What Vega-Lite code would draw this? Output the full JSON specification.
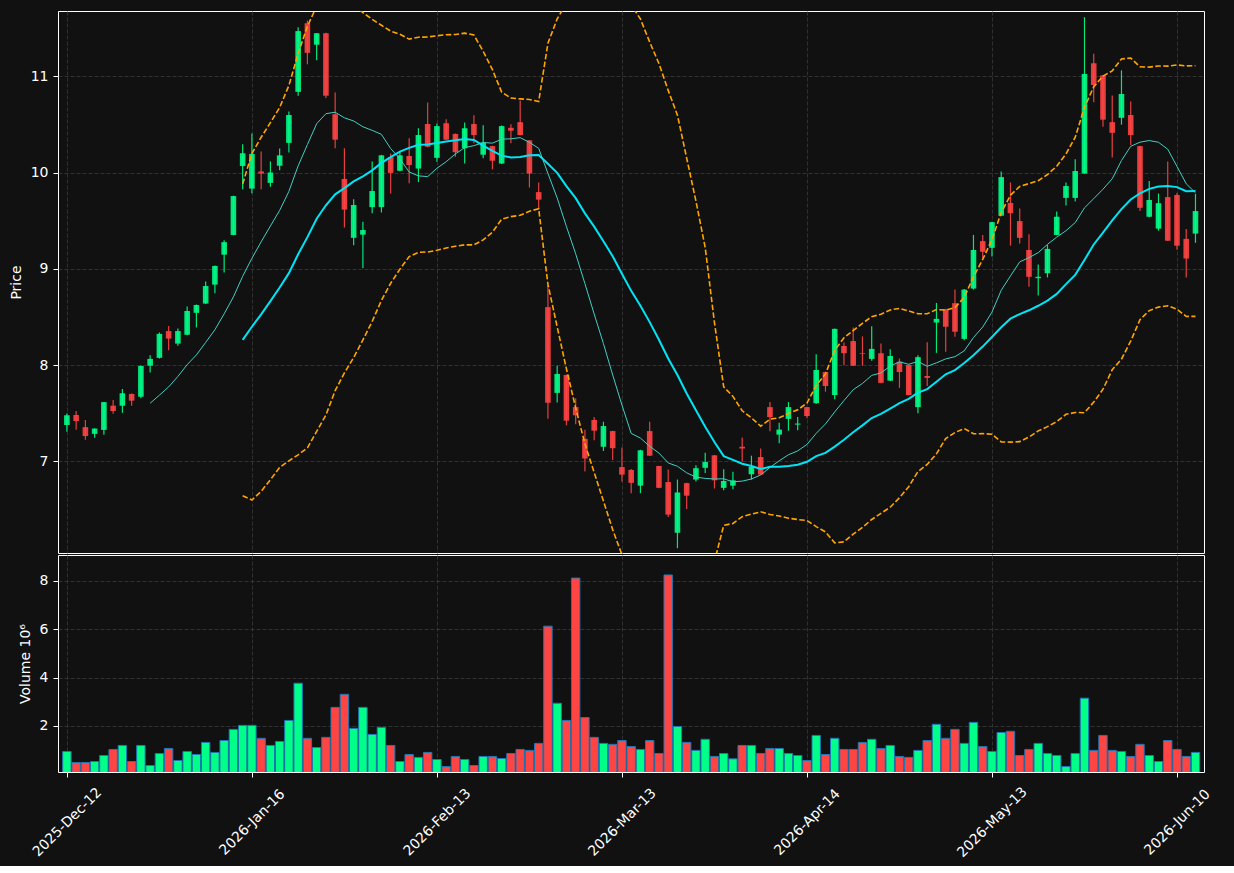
{
"$schema":"https://vega.github.io/schema/vega-lite/v6.json",
"background":"#111111",
"padding":{"left":8,"top":10,"right":26,"bottom":5},
"spacing":0,
"config":{
"font":"DejaVu Sans",
"view":{"stroke":"#ffffff","strokeWidth":1},
"axis":{"domain":false,"gridColor":"#3a3a3a","gridDash":[4,2],"gridWidth":0.8,"tickColor":"#ffffff","tickWidth":1,"tickSize":5,"labelPadding":5,"labelColor":"#ffffff","titleColor":"#ffffff","labelFont":"DejaVu Sans","titleFont":"DejaVu Sans","labelFontSize":14,"titleFontSize":14,"titleFontWeight":"normal","titlePadding":7}
},
"data":{"values":[
{"i":0,"o":7.378,"h":7.497,"l":7.308,"c":7.479,"v":0.946},
{"i":1,"o":7.482,"h":7.523,"l":7.330,"c":7.419,"v":0.49},
{"i":2,"o":7.356,"h":7.430,"l":7.226,"c":7.263,"v":0.49},
{"i":3,"o":7.286,"h":7.345,"l":7.245,"c":7.341,"v":0.53},
{"i":4,"o":7.327,"h":7.616,"l":7.278,"c":7.616,"v":0.78},
{"i":5,"o":7.579,"h":7.638,"l":7.494,"c":7.523,"v":1.03},
{"i":6,"o":7.579,"h":7.753,"l":7.505,"c":7.709,"v":1.195},
{"i":7,"o":7.701,"h":7.705,"l":7.579,"c":7.631,"v":0.53},
{"i":8,"o":7.672,"h":7.998,"l":7.657,"c":7.991,"v":1.195},
{"i":9,"o":7.994,"h":8.102,"l":7.924,"c":8.065,"v":0.365,"m10":7.604},
{"i":10,"o":8.076,"h":8.340,"l":8.070,"c":8.325,"v":0.863,"m10":7.688},
{"i":11,"o":8.354,"h":8.406,"l":8.154,"c":8.276,"v":1.07,"m10":7.774},
{"i":12,"o":8.224,"h":8.380,"l":8.202,"c":8.354,"v":0.573,"m10":7.883},
{"i":13,"o":8.317,"h":8.610,"l":8.310,"c":8.562,"v":0.946,"m10":8.005},
{"i":14,"o":8.544,"h":8.630,"l":8.391,"c":8.625,"v":0.82,"m10":8.106},
{"i":15,"o":8.640,"h":8.870,"l":8.635,"c":8.822,"v":1.32,"m10":8.236},
{"i":16,"o":8.837,"h":9.035,"l":8.748,"c":9.030,"v":0.905,"m10":8.368},
{"i":17,"o":9.148,"h":9.297,"l":8.963,"c":9.278,"v":1.40,"m10":8.533},
{"i":18,"o":9.353,"h":9.760,"l":9.350,"c":9.757,"v":1.86,"m10":8.709},
{"i":19,"o":10.069,"h":10.295,"l":9.827,"c":10.202,"v":2.025,"m10":8.923,"m20":8.263,"bu":9.883,"bl":6.643},
{"i":20,"o":9.835,"h":10.406,"l":9.787,"c":10.195,"v":2.025,"m10":9.110,"m20":8.399,"bu":10.199,"bl":6.599},
{"i":21,"o":10.013,"h":10.221,"l":9.827,"c":9.991,"v":1.49,"m10":9.282,"m20":8.528,"bu":10.368,"bl":6.688},
{"i":22,"o":9.894,"h":10.117,"l":9.853,"c":10.002,"v":1.195,"m10":9.446,"m20":8.665,"bu":10.520,"bl":6.810},
{"i":23,"o":10.072,"h":10.250,"l":10.024,"c":10.180,"v":1.36,"m10":9.608,"m20":8.807,"bu":10.677,"bl":6.937},
{"i":24,"o":10.310,"h":10.636,"l":10.210,"c":10.599,"v":2.23,"m10":9.806,"m20":8.956,"bu":10.906,"bl":7.006},
{"i":25,"o":10.840,"h":11.512,"l":10.800,"c":11.471,"v":3.77,"m10":10.071,"m20":9.153,"bu":11.238,"bl":7.068},
{"i":26,"o":11.553,"h":11.580,"l":11.126,"c":11.245,"v":1.49,"m10":10.292,"m20":9.330,"bu":11.520,"bl":7.140},
{"i":27,"o":11.330,"h":11.449,"l":11.167,"c":11.449,"v":1.11,"m10":10.509,"m20":9.521,"bu":11.731,"bl":7.311},
{"i":28,"o":11.449,"h":11.455,"l":10.777,"c":10.800,"v":1.53,"m10":10.613,"m20":9.661,"bu":11.841,"bl":7.481},
{"i":29,"o":10.607,"h":10.833,"l":10.254,"c":10.343,"v":2.77,"m10":10.628,"m20":9.775,"bu":11.815,"bl":7.735},
{"i":30,"o":9.935,"h":10.254,"l":9.430,"c":9.616,"v":3.31,"m10":10.570,"m20":9.840,"bu":11.760,"bl":7.920},
{"i":31,"o":9.323,"h":9.724,"l":9.245,"c":9.664,"v":1.90,"m10":10.537,"m20":9.909,"bu":11.739,"bl":8.079},
{"i":32,"o":9.356,"h":9.490,"l":9.007,"c":9.404,"v":2.77,"m10":10.477,"m20":9.962,"bu":11.662,"bl":8.262},
{"i":33,"o":9.642,"h":10.117,"l":9.579,"c":9.809,"v":1.65,"m10":10.440,"m20":10.024,"bu":11.594,"bl":8.454},
{"i":34,"o":9.642,"h":10.185,"l":9.586,"c":10.180,"v":1.94,"m10":10.398,"m20":10.102,"bu":11.532,"bl":8.672},
{"i":35,"o":10.161,"h":10.199,"l":9.783,"c":9.998,"v":1.195,"m10":10.251,"m20":10.161,"bu":11.471,"bl":8.851},
{"i":36,"o":10.020,"h":10.224,"l":10.015,"c":10.180,"v":0.53,"m10":10.144,"m20":10.218,"bu":11.438,"bl":8.998},
{"i":37,"o":10.173,"h":10.358,"l":9.891,"c":10.080,"v":0.82,"m10":10.007,"m20":10.258,"bu":11.388,"bl":9.128},
{"i":38,"o":10.043,"h":10.462,"l":9.902,"c":10.391,"v":0.70,"m10":9.967,"m20":10.290,"bu":11.408,"bl":9.172},
{"i":39,"o":10.506,"h":10.729,"l":10.265,"c":10.269,"v":0.905,"m10":9.959,"m20":10.293,"bu":11.410,"bl":9.176},
{"i":40,"o":10.154,"h":10.510,"l":10.113,"c":10.484,"v":0.614,"m10":10.046,"m20":10.308,"bu":11.423,"bl":9.193},
{"i":41,"o":10.514,"h":10.555,"l":10.340,"c":10.343,"v":0.32,"m10":10.114,"m20":10.325,"bu":11.433,"bl":9.217},
{"i":42,"o":10.403,"h":10.406,"l":10.165,"c":10.213,"v":0.74,"m10":10.195,"m20":10.336,"bu":11.436,"bl":9.236},
{"i":43,"o":10.254,"h":10.521,"l":10.095,"c":10.462,"v":0.614,"m10":10.260,"m20":10.350,"bu":11.450,"bl":9.250},
{"i":44,"o":10.506,"h":10.596,"l":10.306,"c":10.391,"v":0.365,"m10":10.281,"m20":10.340,"bu":11.430,"bl":9.250},
{"i":45,"o":10.187,"h":10.492,"l":10.150,"c":10.314,"v":0.74,"m10":10.313,"m20":10.282,"bu":11.262,"bl":9.302},
{"i":46,"o":10.276,"h":10.280,"l":10.035,"c":10.124,"v":0.74,"m10":10.307,"m20":10.226,"bu":11.070,"bl":9.382},
{"i":47,"o":10.095,"h":10.490,"l":10.090,"c":10.484,"v":0.655,"m10":10.348,"m20":10.177,"bu":10.837,"bl":9.517},
{"i":48,"o":10.466,"h":10.503,"l":10.306,"c":10.436,"v":0.863,"m10":10.352,"m20":10.159,"bu":10.775,"bl":9.543},
{"i":49,"o":10.525,"h":10.751,"l":10.388,"c":10.391,"v":1.03,"m10":10.364,"m20":10.162,"bu":10.767,"bl":9.557},
{"i":50,"o":10.336,"h":10.340,"l":9.846,"c":9.991,"v":0.99,"m10":10.315,"m20":10.180,"bu":10.761,"bl":9.599},
{"i":51,"o":9.798,"h":9.898,"l":9.620,"c":9.720,"v":1.28,"m10":10.253,"m20":10.183,"bu":10.740,"bl":9.626},
{"i":52,"o":8.603,"h":8.833,"l":7.442,"c":7.609,"v":6.13,"m10":9.992,"m20":10.093,"bu":11.345,"bl":8.841},
{"i":53,"o":7.712,"h":7.994,"l":7.612,"c":7.909,"v":2.94,"m10":9.737,"m20":9.998,"bu":11.598,"bl":8.398},
{"i":54,"o":7.898,"h":7.902,"l":7.375,"c":7.423,"v":2.23,"m10":9.440,"m20":9.861,"bu":11.761,"bl":7.961},
{"i":55,"o":7.564,"h":7.657,"l":7.386,"c":7.479,"v":8.12,"m10":9.157,"m20":9.735,"bu":11.915,"bl":7.555},
{"i":56,"o":7.234,"h":7.330,"l":6.896,"c":7.030,"v":2.35,"m10":8.847,"m20":9.577,"bu":11.972,"bl":7.182},
{"i":57,"o":7.430,"h":7.460,"l":7.219,"c":7.319,"v":1.53,"m10":8.531,"m20":9.439,"bu":11.993,"bl":6.885},
{"i":58,"o":7.152,"h":7.412,"l":7.108,"c":7.367,"v":1.28,"m10":8.224,"m20":9.288,"bu":11.988,"bl":6.588},
{"i":59,"o":7.315,"h":7.318,"l":7.015,"c":7.137,"v":1.24,"m10":7.898,"m20":9.131,"bu":11.971,"bl":6.291},
{"i":60,"o":6.941,"h":7.145,"l":6.792,"c":6.863,"v":1.40,"m10":7.586,"m20":8.950,"bu":11.870,"bl":6.030},
{"i":61,"o":6.911,"h":6.922,"l":6.670,"c":6.777,"v":1.15,"m10":7.291,"m20":8.772,"bu":11.742,"bl":5.802},
{"i":62,"o":6.748,"h":7.120,"l":6.670,"c":7.115,"v":1.03,"m10":7.242,"m20":8.617,"bu":11.597,"bl":5.637},
{"i":63,"o":7.315,"h":7.412,"l":7.055,"c":7.059,"v":1.40,"m10":7.157,"m20":8.447,"bu":11.357,"bl":5.537},
{"i":64,"o":6.952,"h":6.955,"l":6.722,"c":6.725,"v":0.863,"m10":7.087,"m20":8.264,"bu":11.134,"bl":5.394},
{"i":65,"o":6.785,"h":6.915,"l":6.421,"c":6.447,"v":8.25,"m10":6.984,"m20":8.070,"bu":10.855,"bl":5.285},
{"i":66,"o":6.258,"h":6.811,"l":6.098,"c":6.677,"v":1.98,"m10":6.949,"m20":7.898,"bu":10.598,"bl":5.198},
{"i":67,"o":6.774,"h":6.778,"l":6.506,"c":6.644,"v":1.32,"m10":6.881,"m20":7.706,"bu":10.151,"bl":5.261},
{"i":68,"o":6.811,"h":6.959,"l":6.792,"c":6.929,"v":0.99,"m10":6.837,"m20":7.531,"bu":9.705,"bl":5.357},
{"i":69,"o":6.933,"h":7.089,"l":6.878,"c":6.993,"v":1.45,"m10":6.823,"m20":7.361,"bu":9.223,"bl":5.499},
{"i":70,"o":7.063,"h":7.066,"l":6.718,"c":6.803,"v":0.74,"m10":6.817,"m20":7.201,"bu":8.443,"bl":5.959},
{"i":71,"o":6.725,"h":6.918,"l":6.699,"c":6.796,"v":0.863,"m10":6.819,"m20":7.055,"bu":7.775,"bl":6.335},
{"i":72,"o":6.748,"h":6.892,"l":6.711,"c":6.803,"v":0.64,"m10":6.788,"m20":7.015,"bu":7.675,"bl":6.355},
{"i":73,"o":7.152,"h":7.249,"l":6.996,"c":7.134,"v":1.195,"m10":6.795,"m20":6.976,"bu":7.526,"bl":6.426},
{"i":74,"o":6.866,"h":7.059,"l":6.811,"c":6.944,"v":1.195,"m10":6.817,"m20":6.952,"bu":7.452,"bl":6.452},
{"i":75,"o":7.045,"h":7.134,"l":6.860,"c":6.863,"v":0.863,"m10":6.859,"m20":6.921,"bu":7.366,"bl":6.476},
{"i":76,"o":7.564,"h":7.616,"l":7.312,"c":7.460,"v":1.07,"m10":6.937,"m20":6.943,"bu":7.438,"bl":6.448},
{"i":77,"o":7.278,"h":7.401,"l":7.189,"c":7.330,"v":1.07,"m10":7.006,"m20":6.943,"bu":7.453,"bl":6.433},
{"i":78,"o":7.442,"h":7.616,"l":7.319,"c":7.564,"v":0.863,"m10":7.069,"m20":6.953,"bu":7.497,"bl":6.409},
{"i":79,"o":7.382,"h":7.460,"l":7.323,"c":7.393,"v":0.78,"m10":7.109,"m20":6.966,"bu":7.536,"bl":6.396},
{"i":80,"o":7.564,"h":7.568,"l":7.449,"c":7.471,"v":0.573,"m10":7.176,"m20":6.996,"bu":7.606,"bl":6.386},
{"i":81,"o":7.605,"h":8.113,"l":7.600,"c":7.950,"v":1.61,"m10":7.291,"m20":7.055,"bu":7.788,"bl":6.322},
{"i":82,"o":7.928,"h":7.932,"l":7.724,"c":7.783,"v":0.82,"m10":7.389,"m20":7.088,"bu":7.908,"bl":6.268},
{"i":83,"o":7.690,"h":8.380,"l":7.646,"c":8.377,"v":1.49,"m10":7.514,"m20":7.154,"bu":8.154,"bl":6.154},
{"i":84,"o":8.199,"h":8.236,"l":7.998,"c":8.124,"v":1.03,"m10":7.632,"m20":7.224,"bu":8.284,"bl":6.164},
{"i":85,"o":8.250,"h":8.391,"l":7.990,"c":7.994,"v":1.03,"m10":7.745,"m20":7.302,"bu":8.360,"bl":6.244},
{"i":86,"o":8.124,"h":8.299,"l":7.994,"c":8.117,"v":1.32,"m10":7.810,"m20":7.374,"bu":8.434,"bl":6.314},
{"i":87,"o":8.065,"h":8.403,"l":8.046,"c":8.169,"v":1.45,"m10":7.894,"m20":7.450,"bu":8.504,"bl":6.396},
{"i":88,"o":8.124,"h":8.224,"l":7.812,"c":7.816,"v":1.07,"m10":7.919,"m20":7.494,"bu":8.528,"bl":6.460},
{"i":89,"o":7.839,"h":8.165,"l":7.835,"c":8.095,"v":1.195,"m10":7.990,"m20":7.549,"bu":8.574,"bl":6.524},
{"i":90,"o":8.035,"h":8.069,"l":7.764,"c":7.928,"v":0.74,"m10":8.035,"m20":7.606,"bu":8.590,"bl":6.622},
{"i":91,"o":8.002,"h":8.006,"l":7.686,"c":7.690,"v":0.70,"m10":8.009,"m20":7.650,"bu":8.563,"bl":6.737},
{"i":92,"o":7.564,"h":8.102,"l":7.501,"c":8.083,"v":0.99,"m10":8.039,"m20":7.714,"bu":8.534,"bl":6.894},
{"i":93,"o":7.887,"h":8.239,"l":7.783,"c":7.868,"v":1.40,"m10":7.988,"m20":7.751,"bu":8.534,"bl":6.968},
{"i":94,"o":8.443,"h":8.647,"l":8.128,"c":8.481,"v":2.07,"m10":8.024,"m20":7.828,"bu":8.578,"bl":7.078},
{"i":95,"o":8.581,"h":8.585,"l":8.139,"c":8.399,"v":1.49,"m10":8.065,"m20":7.905,"bu":8.572,"bl":7.238},
{"i":96,"o":8.644,"h":8.785,"l":8.295,"c":8.347,"v":1.86,"m10":8.088,"m20":7.949,"bu":8.598,"bl":7.300},
{"i":97,"o":8.273,"h":8.790,"l":8.258,"c":8.785,"v":1.28,"m10":8.149,"m20":8.022,"bu":8.703,"bl":7.341},
{"i":98,"o":8.796,"h":9.353,"l":8.785,"c":9.197,"v":2.15,"m10":8.287,"m20":8.103,"bu":8.919,"bl":7.287},
{"i":99,"o":9.289,"h":9.353,"l":9.111,"c":9.178,"v":1.15,"m10":8.396,"m20":8.193,"bu":9.098,"bl":7.288},
{"i":100,"o":9.219,"h":9.490,"l":9.130,"c":9.486,"v":0.946,"m10":8.551,"m20":8.293,"bu":9.304,"bl":7.282},
{"i":101,"o":9.553,"h":10.013,"l":9.549,"c":9.954,"v":1.73,"m10":8.778,"m20":8.394,"bu":9.585,"bl":7.203},
{"i":102,"o":9.686,"h":9.898,"l":9.241,"c":9.579,"v":1.78,"m10":8.927,"m20":8.483,"bu":9.766,"bl":7.200},
{"i":103,"o":9.497,"h":9.627,"l":9.263,"c":9.323,"v":0.78,"m10":9.073,"m20":8.531,"bu":9.857,"bl":7.205},
{"i":104,"o":9.197,"h":9.360,"l":8.814,"c":8.918,"v":1.03,"m10":9.117,"m20":8.570,"bu":9.887,"bl":7.253},
{"i":105,"o":8.904,"h":9.045,"l":8.725,"c":8.918,"v":1.28,"m10":9.169,"m20":8.617,"bu":9.917,"bl":7.317},
{"i":106,"o":8.955,"h":9.249,"l":8.911,"c":9.208,"v":0.863,"m10":9.255,"m20":8.671,"bu":9.981,"bl":7.361},
{"i":107,"o":9.353,"h":9.597,"l":9.349,"c":9.542,"v":0.78,"m10":9.330,"m20":8.740,"bu":10.067,"bl":7.413},
{"i":108,"o":9.738,"h":9.898,"l":9.660,"c":9.861,"v":0.32,"m10":9.397,"m20":8.842,"bu":10.195,"bl":7.489},
{"i":109,"o":9.738,"h":10.139,"l":9.701,"c":10.017,"v":0.863,"m10":9.481,"m20":8.938,"bu":10.368,"bl":7.508},
{"i":110,"o":9.991,"h":11.616,"l":9.987,"c":11.026,"v":3.15,"m10":9.635,"m20":9.093,"bu":10.680,"bl":7.506},
{"i":111,"o":11.137,"h":11.237,"l":10.733,"c":10.911,"v":0.99,"m10":9.730,"m20":9.254,"bu":10.892,"bl":7.616},
{"i":112,"o":11.011,"h":11.015,"l":10.477,"c":10.551,"v":1.61,"m10":9.828,"m20":9.377,"bu":11.004,"bl":7.750},
{"i":113,"o":10.525,"h":10.803,"l":10.158,"c":10.414,"v":0.99,"m10":9.937,"m20":9.505,"bu":11.058,"bl":7.952},
{"i":114,"o":10.570,"h":11.063,"l":10.499,"c":10.818,"v":0.946,"m10":10.127,"m20":9.622,"bu":11.182,"bl":8.062},
{"i":115,"o":10.599,"h":10.740,"l":10.288,"c":10.391,"v":0.74,"m10":10.274,"m20":9.721,"bu":11.191,"bl":8.251},
{"i":116,"o":10.276,"h":10.280,"l":9.601,"c":9.635,"v":1.24,"m10":10.317,"m20":9.786,"bu":11.100,"bl":8.472},
{"i":117,"o":9.542,"h":9.913,"l":9.538,"c":9.716,"v":0.78,"m10":10.334,"m20":9.832,"bu":11.097,"bl":8.567},
{"i":118,"o":9.419,"h":9.783,"l":9.397,"c":9.683,"v":0.53,"m10":10.316,"m20":9.856,"bu":11.109,"bl":8.603},
{"i":119,"o":9.746,"h":10.117,"l":9.290,"c":9.293,"v":1.40,"m10":10.244,"m20":9.862,"bu":11.107,"bl":8.617},
{"i":120,"o":9.768,"h":9.790,"l":9.200,"c":9.241,"v":1.03,"m10":10.065,"m20":9.850,"bu":11.119,"bl":8.581},
{"i":121,"o":9.312,"h":9.416,"l":8.911,"c":9.108,"v":0.74,"m10":9.885,"m20":9.808,"bu":11.110,"bl":8.506},
{"i":122,"o":9.367,"h":9.779,"l":9.271,"c":9.601,"v":0.905,"m10":9.790,"m20":9.809,"bu":11.111,"bl":8.507}
]},
"vconcat":[
{"width":1146,"height":542,
"encoding":{"x":{"field":"i","type":"quantitative","scale":{"domain":[-0.42,122.38],"nice":false,"zero":false},"axis":{"values":[0,20,40,60,80,100,120],"labels":false,"ticks":false,"title":null,"grid":true}}},
"layer":[
{"mark":{"type":"rule","strokeWidth":1.2,"opacity":0.9,"clip":true},
"encoding":{"y":{"field":"l","type":"quantitative","scale":{"domain":[6.048,11.68],"nice":false,"zero":false},"axis":{"title":"Price","values":[7,8,9,10,11],"format":"d","grid":true}},"y2":{"field":"h"},
"color":{"condition":{"test":"datum.c >= datum.o","value":"#00ff88"},"value":"#ff4444"}}},
{"mark":{"type":"bar","width":5.6,"opacity":0.9,"clip":true},
"encoding":{"y":{"field":"o","type":"quantitative","scale":{"domain":[6.048,11.68],"nice":false,"zero":false}},"y2":{"field":"c"},
"color":{"condition":{"test":"datum.c >= datum.o","value":"#00ff88"},"value":"#ff4444"}}},
{"mark":{"type":"line","color":"#40d0c4","strokeWidth":1,"clip":true},
"encoding":{"y":{"field":"m10","type":"quantitative","scale":{"domain":[6.048,11.68],"nice":false,"zero":false}}}},
{"mark":{"type":"line","color":"#00e5f5","strokeWidth":2,"clip":true},
"encoding":{"y":{"field":"m20","type":"quantitative","scale":{"domain":[6.048,11.68],"nice":false,"zero":false}}}},
{"mark":{"type":"line","color":"#ffa500","strokeWidth":1.6,"strokeDash":[5.5,2.4],"clip":true},
"encoding":{"y":{"field":"bu","type":"quantitative","scale":{"domain":[6.048,11.68],"nice":false,"zero":false}}}},
{"mark":{"type":"line","color":"#ffa500","strokeWidth":1.6,"strokeDash":[5.5,2.4],"clip":true},
"encoding":{"y":{"field":"bl","type":"quantitative","scale":{"domain":[6.048,11.68],"nice":false,"zero":false}}}}
]},
{"width":1146,"height":217,
"mark":{"type":"bar","width":8.4,"stroke":"#1f77b4","strokeWidth":1,"clip":true},
"encoding":{
"x":{"field":"i","type":"quantitative","scale":{"domain":[-0.42,122.38],"nice":false,"zero":false},"axis":{"values":[0,20,40,60,80,100,120],"title":null,"grid":true,"labelAngle":-45,"labelAlign":"center","labelBaseline":"middle","labelPadding":45,"labelFlush":false,"labelOverlap":false,
"labelExpr":"datum.value == 0 ? '2025-Dec-12' : datum.value == 20 ? '2026-Jan-16' : datum.value == 40 ? '2026-Feb-13' : datum.value == 60 ? '2026-Mar-13' : datum.value == 80 ? '2026-Apr-14' : datum.value == 100 ? '2026-May-13' : '2026-Jun-10'"}},
"y":{"field":"v","type":"quantitative","scale":{"domain":[0.096,9.075],"nice":false,"zero":false},"axis":{"title":"Volume  10⁶","values":[2,4,6,8],"format":"d","grid":true}},
"color":{"condition":{"test":"datum.c >= datum.o","value":"#00ff88"},"value":"#ff4444"}}}
]
}
